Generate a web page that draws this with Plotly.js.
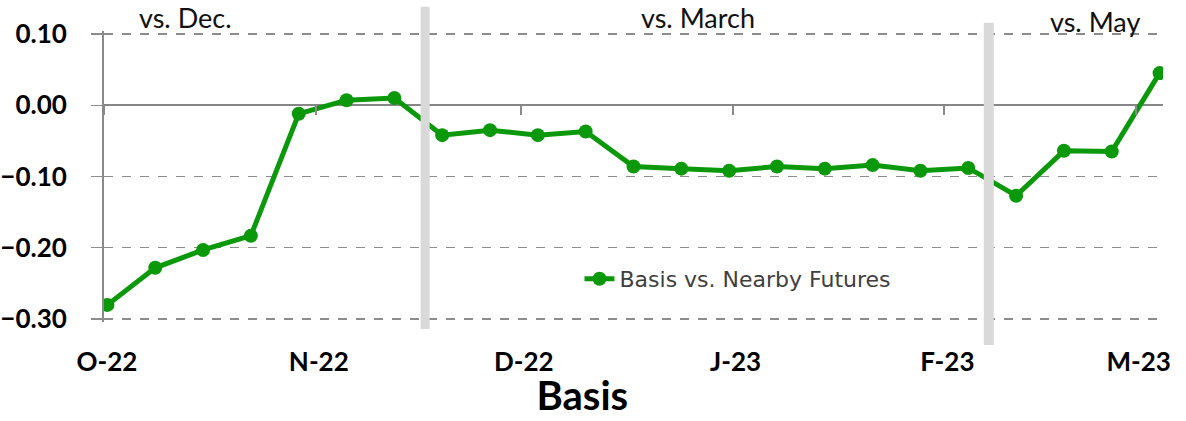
<!DOCTYPE html>
<html>
<head>
<meta charset="utf-8">
<script src="https://cdn.plot.ly/plotly-3.0.1.min.js"></script>
<style>
html,body{margin:0;padding:0;background:#fff;}
#chart{width:1186px;height:421px;}
</style>
</head>
<body>
<div id="chart"></div>
<script>
// weekly observation dates
const weekDates = [
  '2022-10-01','2022-10-08','2022-10-15','2022-10-22','2022-10-29',
  '2022-11-05','2022-11-12','2022-11-19','2022-11-26',
  '2022-12-03','2022-12-10','2022-12-17','2022-12-24','2022-12-31',
  '2023-01-07','2023-01-14','2023-01-21','2023-01-28',
  '2023-02-04','2023-02-11','2023-02-18','2023-02-25',
  '2023-03-04'
];
// Basis vs. nearby futures ($)
const basisValues = [
  -0.280, -0.228, -0.203, -0.183, -0.012,
   0.007,  0.010, -0.042, -0.035,
  -0.042, -0.037, -0.086, -0.089, -0.092,
  -0.086, -0.089, -0.084, -0.092,
  -0.088, -0.127, -0.064, -0.065,
   0.045
];
const seriesName = 'Basis vs. Nearby Futures';
// month tick positions and labels
const monthTicks = ['2022-10-01','2022-11-01','2022-12-01','2023-01-01','2023-02-01','2023-03-01'];
const monthLabels = ['O-22','N-22','D-22','J-23','F-23','M-23'];
const yTicks = [0.10, 0.00, -0.10, -0.20, -0.30];
// contract-roll dividers and period labels
const dividerDates = ['2022-11-17', '2023-02-07 12:00'];
const periodLabels = ['vs. Dec.', 'vs. March', 'vs. May'];
const periodLabelDates = ['2022-10-13', '2022-12-27', '2023-02-23'];

const xRange = ['2022-10-01', '2023-03-05'];
const yRange = [-0.304, 0.104];
const FONT = 'Lato, "Open Sans", sans-serif';
const GREEN = '#0b990b';
const GRIDC = '#8c8c8c';

const trace = {
  type: 'scatter', mode: 'lines+markers',
  x: weekDates, y: basisValues, name: seriesName,
  xperiod: 86400000, xperiodalignment: 'middle',
  line: {color: GREEN, width: 5},
  marker: {color: GREEN, size: 14},
  hoverinfo: 'x+y'
};

const shapes = [
  {type: 'line', xref: 'x', yref: 'paper', x0: dividerDates[0], x1: dividerDates[0], y0: -0.024, y1: 1.083,
   line: {color: '#d9d9d9', width: 9}, layer: 'above'},
  {type: 'line', xref: 'x', yref: 'paper', x0: dividerDates[1], x1: dividerDates[1], y0: -0.079, y1: 1.028,
   line: {color: '#d9d9d9', width: 10}, layer: 'above'}
];

const annotations = periodLabels.map((t, i) => ({
  text: t, xref: 'x', yref: 'paper', x: periodLabelDates[i], y: i === 2 ? 1.031 : 1.045,
  xanchor: 'center', yanchor: 'middle', showarrow: false,
  font: {family: FONT, size: 27, color: '#111'}
}));

const layout = {
  width: 1186, height: 421,
  margin: {l: 104, r: 23, t: 31, b: 99, pad: 0},
  paper_bgcolor: '#fff', plot_bgcolor: '#fff',
  font: {family: FONT, color: '#000'},
  showlegend: true,
  legend: {x: 0.449, xanchor: 'left', y: 0.148, yanchor: 'middle', bgcolor: 'rgba(0,0,0,0)',
           font: {family: '"DejaVu Sans", sans-serif', size: 22, color: '#404040'}},
  title: {text: '<b>Basis</b>', x: 0.491, xanchor: 'center', xref: 'container',
          y: 0.06, yanchor: 'middle', yref: 'container',
          font: {family: FONT, size: 40, color: '#000'}},
  xaxis: {type: 'date', range: xRange, tickvals: monthTicks, ticktext: monthLabels,
          showgrid: false, showline: false, zeroline: false,
          ticks: 'outside', ticklen: 17, tickcolor: 'rgba(0,0,0,0)', ticklabelshift: 3,
          tickfont: {family: FONT, size: 26, color: '#000', weight: 'bold'}},
  xaxis2: {type: 'date', overlaying: 'x', anchor: 'free', position: 0.745, range: xRange,
           tickvals: monthTicks, showticklabels: false, showgrid: false, showline: false, zeroline: false,
           ticks: 'outside', ticklen: 9, tickwidth: 2, tickcolor: '#8a8a8a'},
  yaxis: {range: yRange, tickvals: yTicks, tickformat: '.2f',
          showgrid: true, gridcolor: GRIDC, griddash: 'dash', gridwidth: 1.3,
          zeroline: true, zerolinecolor: '#868686', zerolinewidth: 2,
          showline: true, linecolor: '#8a8a8a', linewidth: 2,
          ticks: 'outside', ticklen: 11, tickwidth: 1.3, tickcolor: GRIDC, ticklabelstandoff: 19,
          tickfont: {family: FONT, size: 26, color: '#000', weight: 'bold'}},
  shapes: shapes,
  annotations: annotations
};

const ghost = {type: 'scatter', mode: 'lines', x: [xRange[0], xRange[1]], y: [null, null],
               xaxis: 'x2', yaxis: 'y', showlegend: false, hoverinfo: 'skip'};

Plotly.newPlot('chart', [trace, ghost], layout, {staticPlot: true});
</script>
</body>
</html>
